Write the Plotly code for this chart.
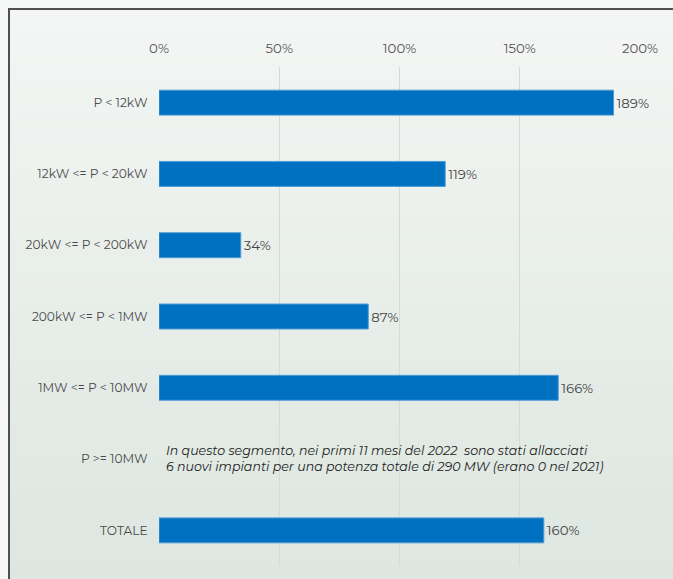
import plotly.graph_objects as go

# Crescita percentuale della potenza connessa per classe di potenza
categorie = [
    "P < 12kW",
    "12kW <= P < 20kW",
    "20kW <= P < 200kW",
    "200kW <= P < 1MW",
    "1MW <= P < 10MW",
    "P >= 10MW",
    "TOTALE",
]
crescita = [189, 119, 34, 87, 166, None, 160]
tick_valori = [0, 50, 100, 150, 200]
tick_testi = ["0%", "50%", "100%", "150%", "200%"]
nota = ("In questo segmento, nei primi 11 mesi del 2022  sono stati allacciati<br>"
        "6 nuovi impianti per una potenza totale di 290 MW (erano 0 nel 2021)")

W, H = 673, 579
ML, MR, MT, MB = 159, 33, 67, 13
PW, PH = W - ML - MR, H - MT - MB
FONT = "Montserrat, 'Open Sans', sans-serif"


def px(x):
    return (x - ML) / PW


def py(y):
    return 1 - (y - MT) / PH


etichette = [f"{v}%" if v is not None else "" for v in crescita]

fig = go.Figure(
    go.Bar(
        x=crescita,
        y=categorie,
        orientation="h",
        marker=dict(color="#0070c0", line=dict(color="#4d9bd6", width=1)),
        text=etichette,
        textposition="outside",
        textfont=dict(family=FONT, size=13.3, color="#444444"),
        cliponaxis=False,
        width=0.35,
    )
)

# sfondo sfumato dentro la cornice
shapes = []
n = 60
top, bottom = 9, H + 5
c0 = (243, 246, 244)
c1 = (221, 230, 224)
for i in range(n):
    t = i / (n - 1)
    col = tuple(round(c0[k] + (c1[k] - c0[k]) * t) for k in range(3))
    y0 = top + (bottom - top) * i / n
    y1 = top + (bottom - top) * (i + 1) / n + 1
    shapes.append(dict(
        type="rect", xref="paper", yref="paper", layer="below",
        x0=px(9), x1=px(W + 5), y0=py(y0), y1=py(y1),
        fillcolor="rgb(%d,%d,%d)" % col, line=dict(width=0),
    ))
# cornice
shapes.append(dict(
    type="rect", xref="paper", yref="paper", layer="below",
    x0=px(9), x1=px(W + 10), y0=py(9), y1=py(H + 10),
    fillcolor="rgba(0,0,0,0)", line=dict(color="#505050", width=2),
))

fig.update_layout(
    width=W, height=H,
    margin=dict(l=ML, r=MR, t=MT, b=MB, pad=0),
    paper_bgcolor="#f5f7f6",
    plot_bgcolor="rgba(0,0,0,0)",
    showlegend=False,
    shapes=shapes,
    font=dict(family=FONT, size=13, color="#555555"),
    xaxis=dict(
        side="top", range=[0, 200],
        tickvals=tick_valori, ticktext=tick_testi,
        showgrid=True, gridcolor="#d6dad7", gridwidth=1,
        zeroline=False, showline=False,
        ticks="outside", ticklen=8, tickcolor="rgba(0,0,0,0)",
        tickfont=dict(family=FONT, size=13.3, color="#555555"),
        fixedrange=True,
    ),
    yaxis=dict(
        autorange="reversed",
        showgrid=False, zeroline=False, showline=False,
        ticks="outside", ticklen=8, tickcolor="rgba(0,0,0,0)",
        tickfont=dict(family=FONT, size=12.2, color="#4a4a4a"),
        fixedrange=True,
    ),
    annotations=[dict(
        x=px(165), y=py(458), xref="paper", yref="paper",
        text=nota, showarrow=False, align="left",
        xanchor="left", yanchor="middle", borderpad=0,
        font=dict(family=FONT, size=12.6, color="#222222", style="italic"),
    )],
)

fig.write_html("out.html")
